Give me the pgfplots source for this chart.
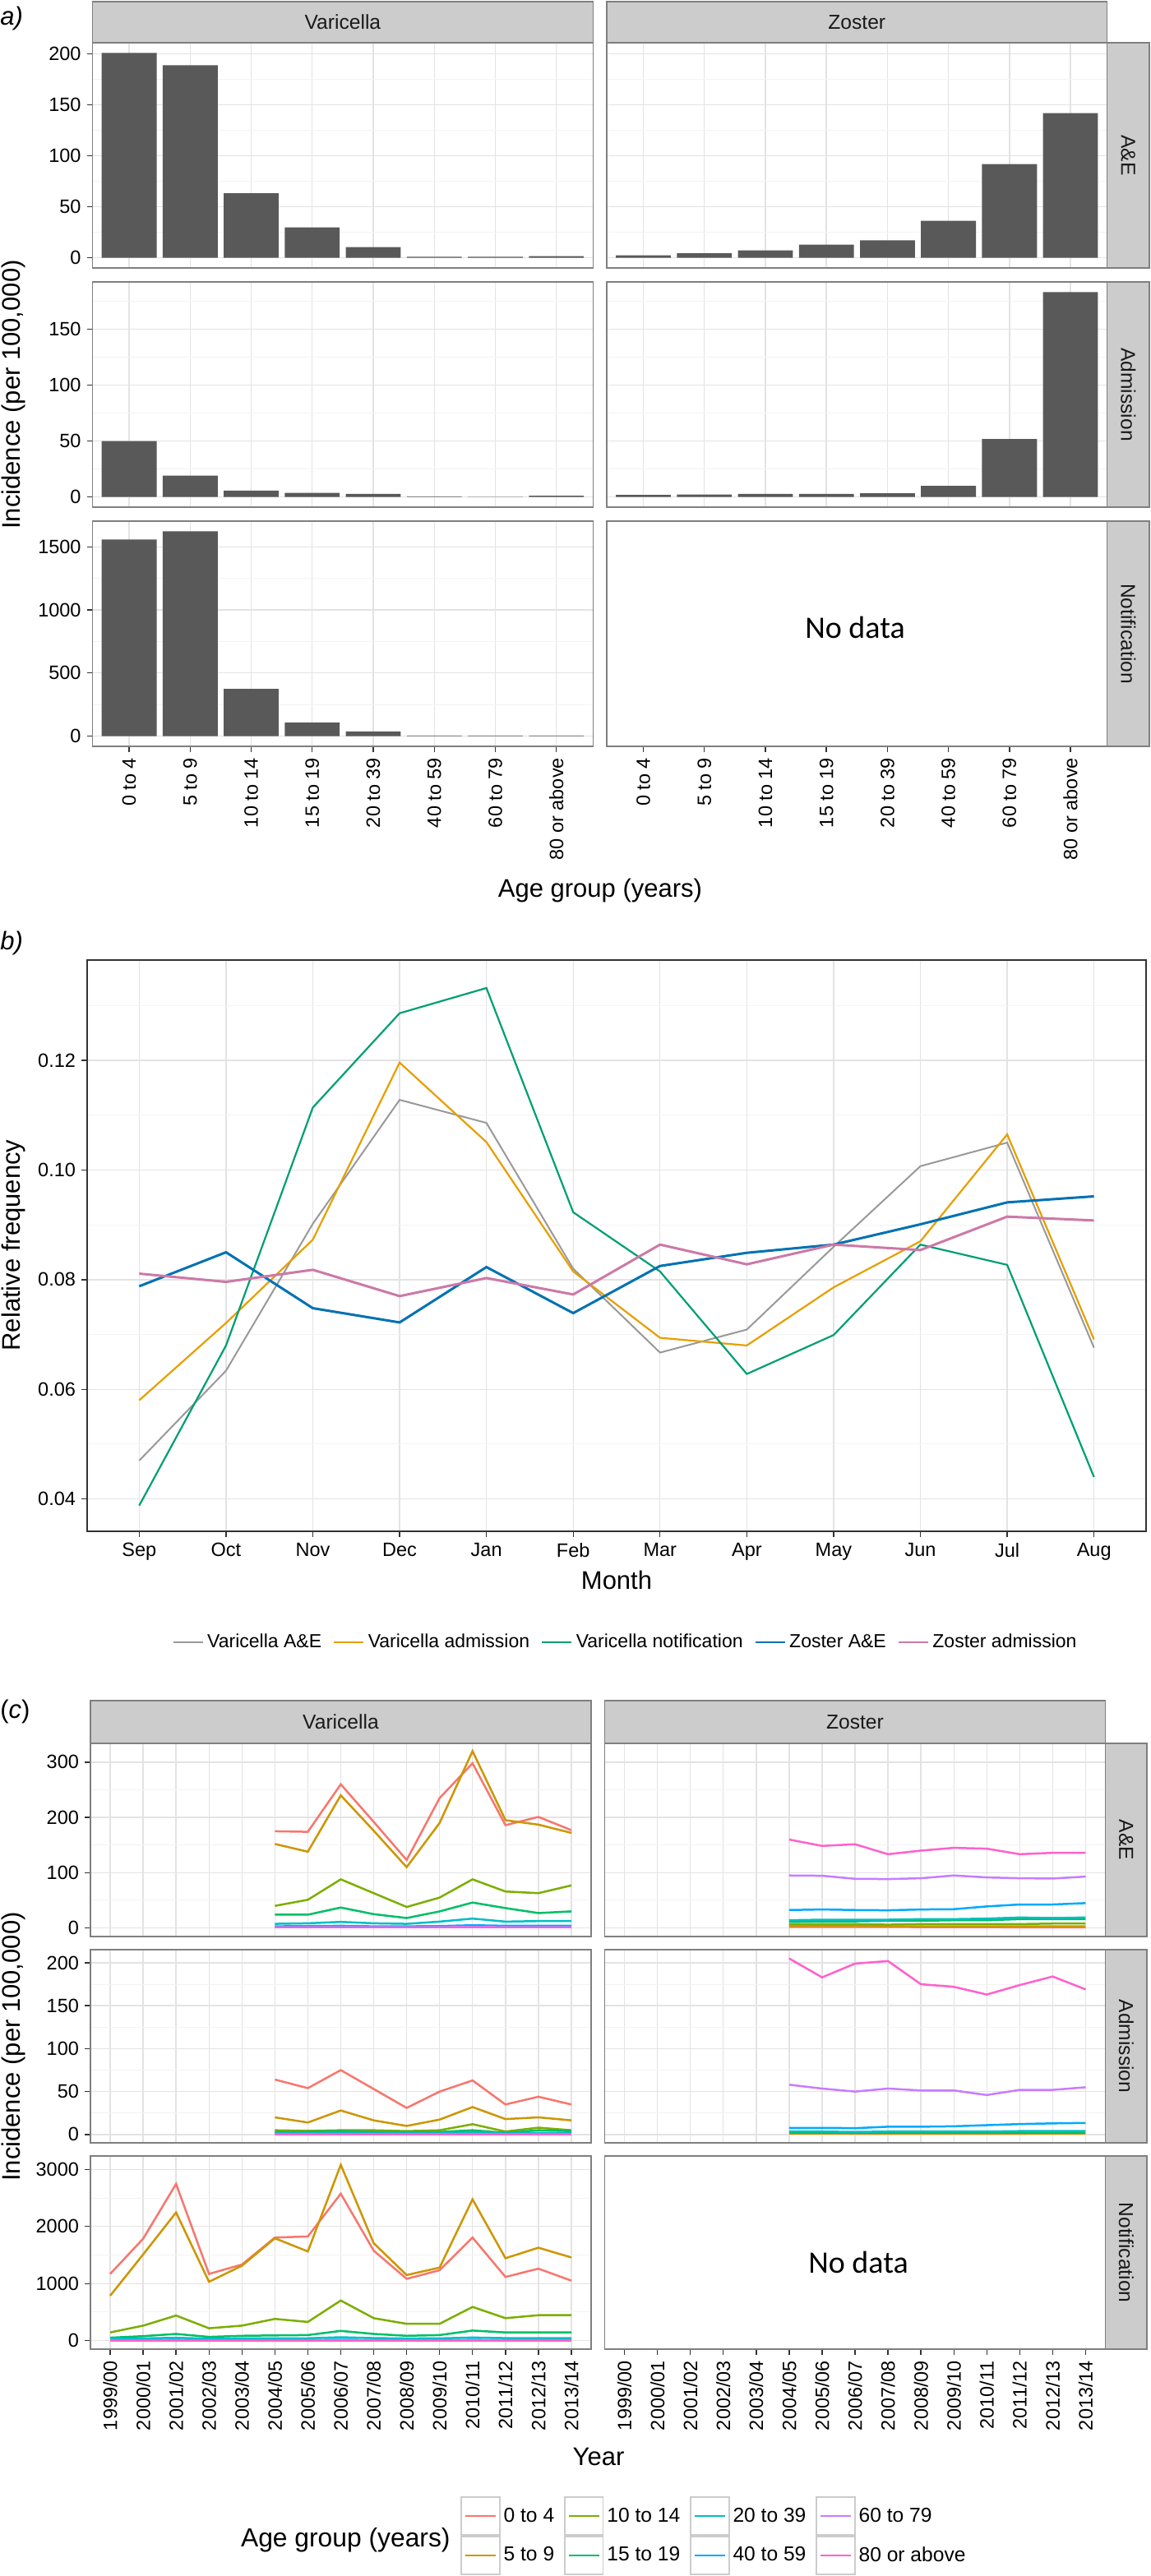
\documentclass[border=0pt]{standalone}
\usepackage{fontspec}
\setmainfont[Ligatures=NoCommon]{Liberation Sans}
\newfontfamily\carlito{Carlito}
\usepackage{pgfplots}
\usepackage{pgfplotstable}
\pgfplotsset{compat=1.18}

\definecolor{barc}{HTML}{595959}
\definecolor{stripc}{HTML}{CCCCCC}
\definecolor{borderc}{HTML}{7F7F7F}
\definecolor{gridmaj}{HTML}{E3E3E3}
\definecolor{gridmin}{HTML}{F3F3F3}
\definecolor{tickc}{HTML}{333333}
\definecolor{txtc}{HTML}{1A1A1A}
\definecolor{h1}{HTML}{F8766D}
\definecolor{h2}{HTML}{CD9600}
\definecolor{h3}{HTML}{7CAE00}
\definecolor{h4}{HTML}{00BE67}
\definecolor{h5}{HTML}{00BFC4}
\definecolor{h6}{HTML}{00A9FF}
\definecolor{h7}{HTML}{C77CFF}
\definecolor{h8}{HTML}{FF61CC}
\definecolor{oGrey}{HTML}{999999}
\definecolor{oOrange}{HTML}{E69F00}
\definecolor{oGreen}{HTML}{009E73}
\definecolor{oBlue}{HTML}{0072B2}
\definecolor{oPink}{HTML}{CC79A7}

\newcommand\tkfont{\fontsize{11.75}{13}\selectfont}
\newcommand\stfont{\fontsize{12.3}{14}\selectfont}
\newcommand\ttfont{\fontsize{15.5}{18}\selectfont}

% ---------- data: panel a ----------
\pgfplotstableread{
i v z
1 201 2.4
2 189 4.3
3 63.3 7.3
4 29.9 12.9
5 10.5 17
6 1 36.3
7 1 92
8 1.5 142
}\tabAE
\pgfplotstableread{
i v z
1 49.9 1.7
2 19.1 2.2
3 5.6 2.7
4 3.7 2.7
5 2.7 3.2
6 0.5 9.8
7 0.2 51.9
8 1 183.3
}\tabAdm
\pgfplotstableread{
i v
1 1557
2 1622
3 374
4 107
5 37
6 5
7 5
8 5
}\tabNot

% ---------- data: panel b ----------
\pgfplotstableread{
m va vad vn za zad
1 0.0470 0.0580 0.0388 0.0788 0.0811
2 0.0634 0.0721 0.0680 0.0850 0.0796
3 0.0902 0.0873 0.1114 0.0748 0.0818
4 0.1128 0.1196 0.1286 0.0722 0.0770
5 0.1086 0.1051 0.1332 0.0823 0.0803
6 0.0820 0.0815 0.0923 0.0739 0.0773
7 0.0667 0.0694 0.0815 0.0825 0.0864
8 0.0709 0.0680 0.0628 0.0849 0.0828
9 0.0860 0.0786 0.0699 0.0864 0.0864
10 0.1007 0.0870 0.0864 0.0901 0.0854
11 0.1050 0.1065 0.0827 0.0941 0.0915
12 0.0676 0.0691 0.0440 0.0952 0.0908
}\tabB

% ---------- data: panel c ----------
\pgfplotstableread{
i a b c d e f g h
6 175 152 40 24 7.5 3 1.5 1
7 174 138 51 24 8.5 3.5 1.5 1
8 260 240 88 37 11 4 1.5 1
9 192 176 63 25 8.5 3 1.5 1
10 123 110 38 18 7.5 3 1.5 1
11 235 190 55 30 11.5 3.5 1.5 1
12 298 320 88 46 17 5 2 1
13 186 195 66 36 11.5 4 1.5 1
14 201 187 63 27 12.5 4 1.5 1
15 177 172 77 30 12.5 4 1.5 1
}\tabVAE
\pgfplotstableread{
i a b c d e f g h
6 2 4 7 11 14 32.5 95 160
7 2 4 7 12 15 33.5 94.5 148.5
8 2 4 7 12 15 32.5 89 151.5
9 2 3 6 13 15 32 88.5 133.5
10 1.5 3 7 13 16 33.5 90 140
11 1.5 3 7 14 16 34 95 145
12 1.5 3 7 14 17 39 91.5 143.5
13 1 3 7 16 19 42.5 90 133.5
14 1 3 8 16 18 42.5 89.5 136
15 1 3 8 16 19 45 93 136
}\tabZAE
\pgfplotstableread{
i a b c d e f g h
6 64 20 5 3 2 1 1 0.5
7 54 14 4.3 3 2 1 1 0.5
8 75 28 5 4 2 1 1 0.5
9 53 16.5 5 3 2 1 1 0.5
10 31 10 4 3 2 1 1 0.5
11 50 17.4 5 3 2 1 1 0.5
12 63 32 12 5 2.5 1 1 0.5
13 35 18 3.5 2 2 1 1 0.5
14 44 20 8 5 2 1 1 0.5
15 35 16.5 5 4 2 1 1 0.5
}\tabVAdm
\pgfplotstableread{
i a b c d e f g h
6 1.5 1.5 2 2 3.5 7.8 58 205
7 1.5 1.5 2 2 3.5 7.8 53.5 183
8 1 1.5 2 2 3 7.4 50 199
9 1 1.5 2 2 3.5 9.1 53.5 202
10 1 1.5 2 2 3.5 9.1 51.3 175
11 1 1.5 2 2 3.5 9.6 51.3 172
12 1 1.5 2 2 3.5 10.9 46 163
13 1 1.5 2 2 4 12.2 52 174
14 1.5 1.5 2 2 4 13 52 184
15 1.5 1.5 2 2 4 13.5 55 169
}\tabZAdm
\pgfplotstableread{
i a b c d e f g h
1 1169 788 144 52 33 10 5 3
2 1786 1510 263 79 40 12 6 3
3 2745 2245 440 118 50 14 6 3
4 1169 1031 217 66 35 10 5 3
5 1333 1313 263 85 40 11 5 3
6 1806 1793 381 92 42 12 5 3
7 1825 1563 328 98 42 12 5 3
8 2574 3080 703 171 60 15 6 3
9 1576 1707 394 118 45 12 5 3
10 1083 1149 295 85 38 11 5 3
11 1234 1280 295 98 40 11 5 3
12 1806 2475 591 177 55 14 6 3
13 1116 1444 394 144 45 12 5 3
14 1261 1628 446 144 45 12 5 3
15 1051 1457 446 144 45 12 5 3
}\tabVNot

\pgfplotsset{
  base/.style={scale only axis, anchor=north west,
    axis line style={draw=borderc, line width=0.7pt},
    tick align=outside, major tick length=3.5pt, minor tick length=0pt,
    tick style={draw=tickc, line width=0.7pt},
    minor tick style={draw=none},
    xtick pos=left, ytick pos=left,
    xmajorgrids, ymajorgrids, yminorgrids,
    major grid style={draw=gridmaj, line width=0.7pt},
    minor grid style={draw=gridmin, line width=0.5pt},
    ticklabel style={font=\tkfont, text=black},
    /pgf/number format/assume math mode=true,
  },
  apanel/.style={base, width=304.3pt, height=137pt, xmin=0.4, xmax=8.6, xtick={1,...,8}},
  cpanel/.style={base, width=304.5pt, height=117.5pt, xmin=0.4, xmax=15.6, xtick={1,...,15}},
  nox/.style={xticklabels={}, xtick style={draw=none}},
  noy/.style={yticklabels={}, ytick style={draw=none}},
  agelab/.style={xticklabels={0 to 4,5 to 9,10 to 14,15 to 19,20 to 39,40 to 59,60 to 79,80 or above},
    xticklabel style={rotate=90, anchor=east}},
  yearlab/.style={xticklabels={1999/00,2000/01,2001/02,2002/03,2003/04,2004/05,2005/06,2006/07,2007/08,2008/09,2009/10,2010/11,2011/12,2012/13,2013/14},
    xticklabel style={rotate=90, anchor=east}},
  nogrid/.style={xmajorgrids=false, ymajorgrids=false, yminorgrids=false},
  barst/.style={ybar, bar width=0.9, bar shift=0pt, fill=barc, draw=none},
  cl/.style={line width=1.25pt},
  arow1/.style={ymin=-10.05, ymax=211.05, ytick={0,50,100,150,200}, yticklabels={0,50,100,150,200}, minor ytick={25,75,125,175}},
  arow2/.style={ymin=-9.17, ymax=192.47, ytick={0,50,100,150}, yticklabels={0,50,100,150}, minor ytick={25,75,125,175}},
  arow3/.style={ymin=-81.1, ymax=1703.1, ytick={0,500,1000,1500}, yticklabels={0,500,1000,1500}, minor ytick={250,750,1250}},
  crow1/.style={ymin=-15.5, ymax=334, ytick={0,100,200,300}, yticklabels={0,100,200,300}, minor ytick={50,150,250}},
  crow2/.style={ymin=-9.7, ymax=215.2, ytick={0,50,100,150,200}, yticklabels={0,50,100,150,200}, minor ytick={25,75,125,175}},
  crow3/.style={ymin=-149, ymax=3234, ytick={0,1000,2000,3000}, yticklabels={0,1000,2000,3000}, minor ytick={500,1500,2500}},
}

\newcommand\eightlines[1]{%
  \addplot[h1,cl] table[x=i,y=a]{#1};
  \addplot[h2,cl] table[x=i,y=b]{#1};
  \addplot[h3,cl] table[x=i,y=c]{#1};
  \addplot[h4,cl] table[x=i,y=d]{#1};
  \addplot[h5,cl] table[x=i,y=e]{#1};
  \addplot[h6,cl] table[x=i,y=f]{#1};
  \addplot[h7,cl] table[x=i,y=g]{#1};
  \addplot[h8,cl] table[x=i,y=h]{#1};
}

\begin{document}
\begin{tikzpicture}
\useasboundingbox (0,0) rectangle (700pt,-1567pt);

% ================= panel a =================
\begin{axis}[apanel, arow1, nox, at={(56.3pt,-26pt)}]
\addplot[barst] table[x=i,y=v]{\tabAE};
\end{axis}
\begin{axis}[apanel, arow1, nox, noy, at={(369pt,-26pt)}]
\addplot[barst] table[x=i,y=z]{\tabAE};
\end{axis}
\begin{axis}[apanel, arow2, nox, at={(56.3pt,-171.5pt)}]
\addplot[barst] table[x=i,y=v]{\tabAdm};
\end{axis}
\begin{axis}[apanel, arow2, nox, noy, at={(369pt,-171.5pt)}]
\addplot[barst] table[x=i,y=z]{\tabAdm};
\end{axis}
\begin{axis}[apanel, arow3, agelab, at={(56.3pt,-317pt)}]
\addplot[barst] table[x=i,y=v]{\tabNot};
\end{axis}
\begin{axis}[apanel, arow3, agelab, noy, nogrid, at={(369pt,-317pt)}]
\end{axis}

\begin{scope}[draw=borderc, line width=0.7pt]
\draw[fill=stripc] (56.3pt,-1pt) rectangle (360.6pt,-26pt);
\draw[fill=stripc] (369pt,-1pt) rectangle (673.3pt,-26pt);
\draw[fill=stripc] (673.3pt,-26pt) rectangle (699pt,-163pt);
\draw[fill=stripc] (673.3pt,-171.5pt) rectangle (699pt,-308.5pt);
\draw[fill=stripc] (673.3pt,-317pt) rectangle (699pt,-454pt);
\end{scope}
\node[font=\stfont, text=txtc] at (208.45pt,-13.5pt) {Varicella};
\node[font=\stfont, text=txtc] at (521.15pt,-13.5pt) {Zoster};
\node[font=\stfont, text=txtc, rotate=-90] at (686.15pt,-94.5pt) {A\&E};
\node[font=\stfont, text=txtc, rotate=-90] at (686.15pt,-240pt) {Admission};
\node[font=\stfont, text=txtc, rotate=-90] at (686.15pt,-385.5pt) {Notification};
\node[font=\carlito\fontsize{19}{22}\selectfont] at (520pt,-381.5pt) {No data};
\node[font=\ttfont, rotate=90] at (8pt,-240pt) {Incidence (per 100,000)};
\node[font=\ttfont] at (365pt,-541.5pt) {Age group (years)};
\node[font=\ttfont\itshape, anchor=west, inner sep=0pt] at (0pt,-11pt) {a)};

% ================= panel b =================
\begin{axis}[base, at={(53pt,-584pt)}, width=644pt, height=347.5pt,
  axis line style={draw=tickc, line width=1pt},
  xmin=0.4, xmax=12.6, ymin=0.0341, ymax=0.1383,
  xtick={1,...,12}, xticklabels={Sep,Oct,Nov,Dec,Jan,Feb,Mar,Apr,May,Jun,Jul,Aug},
  ytick={0.04,0.06,0.08,0.10,0.12}, yticklabels={0.04,0.06,0.08,0.10,0.12},
  minor ytick={0.05,0.07,0.09,0.11,0.13},
  legend columns=5, legend cell align=left,
  legend style={at={(0.509,-0.194)}, anchor=center, draw=none, fill=none,
    font=\fontsize{11.5}{13}\selectfont,
    /tikz/every even column/.append style={column sep=5pt}},
  legend image code/.code={\draw[#1, line width=1.3pt] (0pt,0pt) -- (18pt,0pt);},
]
\addplot[oGrey, line width=1pt] table[x=m,y=va]{\tabB};
\addlegendentry{Varicella A\&E}
\addplot[oOrange, line width=1.1pt] table[x=m,y=vad]{\tabB};
\addlegendentry{Varicella admission}
\addplot[oGreen, line width=1.1pt] table[x=m,y=vn]{\tabB};
\addlegendentry{Varicella notification}
\addplot[oBlue, line width=1.5pt] table[x=m,y=za]{\tabB};
\addlegendentry{Zoster A\&E}
\addplot[oPink, line width=1.5pt] table[x=m,y=zad]{\tabB};
\addlegendentry{Zoster admission}
\end{axis}
\node[font=\ttfont\itshape, anchor=west, inner sep=0pt] at (0pt,-573.5pt) {b)};
\node[font=\ttfont, rotate=90] at (8pt,-757.5pt) {Relative frequency};
\node[font=\ttfont] at (375pt,-961pt) {Month};

% ================= panel c =================
\begin{axis}[cpanel, crow1, nox, at={(55pt,-1060.5pt)}]
\eightlines{\tabVAE}
\end{axis}
\begin{axis}[cpanel, crow1, nox, noy, at={(367.75pt,-1060.5pt)}]
\eightlines{\tabZAE}
\end{axis}
\begin{axis}[cpanel, crow2, nox, at={(55pt,-1186pt)}]
\eightlines{\tabVAdm}
\end{axis}
\begin{axis}[cpanel, crow2, nox, noy, at={(367.75pt,-1186pt)}]
\eightlines{\tabZAdm}
\end{axis}
\begin{axis}[cpanel, crow3, yearlab, at={(55pt,-1311.5pt)},
  legend columns=2, transpose legend, legend cell align=left,
  legend style={at={(0.739,-0.966)}, anchor=west, draw=none, fill=none, inner sep=0pt,
    font=\stfont, row sep=0pt,
    /tikz/every even column/.append style={column sep=4pt}},
  legend image code/.code={\draw[draw=stripc, line width=0.8pt, fill=white] (0pt,-11.5pt) rectangle (23.3pt,11.5pt); \draw[#1] (2.5pt,0pt) -- (20.8pt,0pt);},
]
\eightlines{\tabVNot}
\legend{0 to 4,5 to 9,10 to 14,15 to 19,20 to 39,40 to 59,60 to 79,80 or above}
\end{axis}
\begin{axis}[cpanel, crow3, yearlab, noy, nogrid, at={(367.75pt,-1311.5pt)}]
\end{axis}

\begin{scope}[draw=borderc, line width=0.7pt]
\draw[fill=stripc] (55pt,-1034.5pt) rectangle (359.5pt,-1060.5pt);
\draw[fill=stripc] (367.75pt,-1034.5pt) rectangle (672.25pt,-1060.5pt);
\draw[fill=stripc] (672.25pt,-1060.5pt) rectangle (697.5pt,-1178pt);
\draw[fill=stripc] (672.25pt,-1186pt) rectangle (697.5pt,-1303.5pt);
\draw[fill=stripc] (672.25pt,-1311.5pt) rectangle (697.5pt,-1429pt);
\end{scope}
\node[font=\stfont, text=txtc] at (207.25pt,-1047.5pt) {Varicella};
\node[font=\stfont, text=txtc] at (520pt,-1047.5pt) {Zoster};
\node[font=\stfont, text=txtc, rotate=-90] at (684.9pt,-1119.25pt) {A\&E};
\node[font=\stfont, text=txtc, rotate=-90] at (684.9pt,-1244.75pt) {Admission};
\node[font=\stfont, text=txtc, rotate=-90] at (684.9pt,-1370.25pt) {Notification};
\node[font=\carlito\fontsize{19}{22}\selectfont] at (522pt,-1376pt) {No data};
\node[font=\ttfont\upshape, anchor=west, inner sep=0pt] at (0pt,-1041pt) {(\textit{c})};
\node[font=\ttfont, rotate=90] at (8pt,-1245pt) {Incidence (per 100,000)};
\node[font=\ttfont] at (364pt,-1494.5pt) {Year};
\node[font=\fontsize{15.9}{18}\selectfont, anchor=east, inner sep=0pt] at (274pt,-1545pt) {Age group (years)};
\end{tikzpicture}
\end{document}
